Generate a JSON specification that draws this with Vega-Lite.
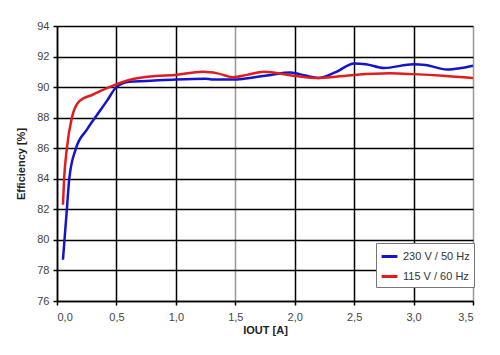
{
  "$schema": "https://vega.github.io/schema/vega-lite/v6.json",
  "width": 416,
  "height": 275,
  "autosize": {"type": "none"},
  "padding": {"left": 57, "top": 26, "right": 27, "bottom": 54},
  "background": "white",
  "config": {
    "view": {"stroke": null},
    "font": "Liberation Sans"
  },
  "data": {
    "values": [
      {"series": "230 V / 50 Hz", "iout": 0.05, "eff": 78.7},
      {"series": "230 V / 50 Hz", "iout": 0.063, "eff": 80.0},
      {"series": "230 V / 50 Hz", "iout": 0.083, "eff": 82.0},
      {"series": "230 V / 50 Hz", "iout": 0.103, "eff": 84.0},
      {"series": "230 V / 50 Hz", "iout": 0.16, "eff": 86.0},
      {"series": "230 V / 50 Hz", "iout": 0.25, "eff": 87.2},
      {"series": "230 V / 50 Hz", "iout": 0.32, "eff": 88.0},
      {"series": "230 V / 50 Hz", "iout": 0.42, "eff": 89.1},
      {"series": "230 V / 50 Hz", "iout": 0.5, "eff": 90.0},
      {"series": "230 V / 50 Hz", "iout": 0.61, "eff": 90.35},
      {"series": "230 V / 50 Hz", "iout": 0.75, "eff": 90.4},
      {"series": "230 V / 50 Hz", "iout": 1.0, "eff": 90.5},
      {"series": "230 V / 50 Hz", "iout": 1.25, "eff": 90.55},
      {"series": "230 V / 50 Hz", "iout": 1.3, "eff": 90.5},
      {"series": "230 V / 50 Hz", "iout": 1.5, "eff": 90.5},
      {"series": "230 V / 50 Hz", "iout": 1.62, "eff": 90.6},
      {"series": "230 V / 50 Hz", "iout": 1.8, "eff": 90.8},
      {"series": "230 V / 50 Hz", "iout": 1.96, "eff": 90.95},
      {"series": "230 V / 50 Hz", "iout": 2.04, "eff": 90.85},
      {"series": "230 V / 50 Hz", "iout": 2.2, "eff": 90.6},
      {"series": "230 V / 50 Hz", "iout": 2.35, "eff": 91.0},
      {"series": "230 V / 50 Hz", "iout": 2.5, "eff": 91.55},
      {"series": "230 V / 50 Hz", "iout": 2.6, "eff": 91.5},
      {"series": "230 V / 50 Hz", "iout": 2.75, "eff": 91.25},
      {"series": "230 V / 50 Hz", "iout": 3.0, "eff": 91.5},
      {"series": "230 V / 50 Hz", "iout": 3.1, "eff": 91.45},
      {"series": "230 V / 50 Hz", "iout": 3.28, "eff": 91.15},
      {"series": "230 V / 50 Hz", "iout": 3.4, "eff": 91.25},
      {"series": "230 V / 50 Hz", "iout": 3.5, "eff": 91.4},
      {"series": "115 V / 60 Hz", "iout": 0.05, "eff": 82.3},
      {"series": "115 V / 60 Hz", "iout": 0.06, "eff": 84.0},
      {"series": "115 V / 60 Hz", "iout": 0.083, "eff": 86.0},
      {"series": "115 V / 60 Hz", "iout": 0.125, "eff": 88.0},
      {"series": "115 V / 60 Hz", "iout": 0.19, "eff": 89.1},
      {"series": "115 V / 60 Hz", "iout": 0.3, "eff": 89.5},
      {"series": "115 V / 60 Hz", "iout": 0.44, "eff": 90.0},
      {"series": "115 V / 60 Hz", "iout": 0.6, "eff": 90.45},
      {"series": "115 V / 60 Hz", "iout": 0.83, "eff": 90.72},
      {"series": "115 V / 60 Hz", "iout": 1.0, "eff": 90.8},
      {"series": "115 V / 60 Hz", "iout": 1.1, "eff": 90.9},
      {"series": "115 V / 60 Hz", "iout": 1.23, "eff": 91.0},
      {"series": "115 V / 60 Hz", "iout": 1.35, "eff": 90.9},
      {"series": "115 V / 60 Hz", "iout": 1.48, "eff": 90.65},
      {"series": "115 V / 60 Hz", "iout": 1.6, "eff": 90.8},
      {"series": "115 V / 60 Hz", "iout": 1.74, "eff": 91.0},
      {"series": "115 V / 60 Hz", "iout": 1.99, "eff": 90.75},
      {"series": "115 V / 60 Hz", "iout": 2.2, "eff": 90.6},
      {"series": "115 V / 60 Hz", "iout": 2.5, "eff": 90.8},
      {"series": "115 V / 60 Hz", "iout": 2.8, "eff": 90.9},
      {"series": "115 V / 60 Hz", "iout": 3.0, "eff": 90.85},
      {"series": "115 V / 60 Hz", "iout": 3.25, "eff": 90.75},
      {"series": "115 V / 60 Hz", "iout": 3.5, "eff": 90.6}
    ]
  },
  "mark": {"type": "line", "interpolate": "monotone", "strokeWidth": 2.5},
  "encoding": {
    "x": {
      "field": "iout", "type": "quantitative",
      "scale": {"domain": [0, 3.5], "nice": false},
      "axis": {
        "values": [0, 0.5, 1, 1.5, 2, 2.5, 3, 3.5],
        "labelExpr": "replace(format(datum.value, '.1f'), '.', ',')",
        "title": "IOUT [A]",
        "titleFontSize": 11, "titleFontWeight": "bold", "titleColor": "#222",
        "titlePadding": 2,
        "labelFontSize": 11, "labelColor": "#444",
        "domainColor": "black", "domainWidth": 1.5,
        "tickColor": "black", "tickSize": 4, "tickWidth": 1.5,
        "labelPadding": 6,
        "grid": true,
        "gridColor": {"condition": {"test": "datum.value == 1.5 || datum.value == 3.5", "value": "#999999"}, "value": "black"},
        "gridWidth": 1.5, "gridOpacity": 1
      }
    },
    "y": {
      "field": "eff", "type": "quantitative",
      "scale": {"domain": [76, 94], "nice": false, "zero": false},
      "axis": {
        "values": [76, 78, 80, 82, 84, 86, 88, 90, 92, 94],
        "title": "Efficiency [%]",
        "titleFontSize": 11, "titleFontWeight": "bold", "titleColor": "#222",
        "titlePadding": 10,
        "labelFontSize": 11, "labelColor": "#444",
        "domainColor": "black", "domainWidth": 1.5,
        "tickColor": "black", "tickSize": 4, "tickWidth": 1.5,
        "labelPadding": 4,
        "grid": true, "gridColor": "black", "gridWidth": 1.5, "gridOpacity": 1
      }
    },
    "color": {
      "field": "series", "type": "nominal",
      "scale": {"domain": ["230 V / 50 Hz", "115 V / 60 Hz"], "range": ["#1414cc", "#e01c1c"]},
      "legend": {
        "title": null,
        "orient": "none", "legendX": 319, "legendY": 217,
        "fillColor": "white", "strokeColor": "#777",
        "padding": 4,
        "symbolType": "stroke", "symbolStrokeWidth": 3, "symbolSize": 250,
        "labelFontSize": 11, "labelColor": "#333",
        "rowPadding": 4
      }
    }
  }
}
